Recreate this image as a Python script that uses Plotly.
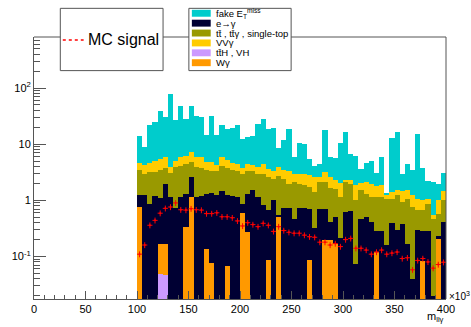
import numpy as np
import plotly.graph_objects as go

# ---- binning (GeV, axis shown in units of 10^3) ----
bin_low = 100.0
bin_width = 5.0
n_bins = 60
bin_centers = bin_low + bin_width * (np.arange(n_bins) + 0.5)

# ---- per-process expected yields per bin ----
tth_vh = [0, 0, 0, 0, 0.048, 0.046, 0, 0, 0, 0,
          0, 0, 0, 0, 0, 0, 0, 0, 0, 0,
          0, 0, 0, 0, 0, 0, 0, 0, 0, 0,
          0, 0, 0, 0, 0, 0, 0, 0, 0, 0,
          0, 0, 0, 0, 0, 0, 0, 0, 0, 0,
          0, 0, 0, 0, 0, 0, 0, 0, 0, 0]

w_gamma = [0.75, 0, 0, 0, 0.122, 0.119, 0, 0, 0, 0.33,
           1.14, 0, 0, 0.135, 0.076, 0, 0, 0.068, 0, 0,
           0.6, 0.276, 0, 0, 0, 0.088, 0, 0.51, 0, 0,
           0, 0, 0, 0.088, 0, 0, 0.2, 0.2, 0.17, 0,
           0, 0, 0, 0, 0, 0, 0.12, 0, 0, 0,
           0, 0, 0, 0, 0, 0.082, 0, 0, 0.205, 0]

e_to_gamma = [0.49, 1.22, 0.87, 1.18, 0.93, 1.79, 1.14, 0.72, 1.14, 0.98,
              1.44, 1.14, 1.19, 1.18, 1.25, 1.25, 1.44, 1.18, 1.2, 1.14,
              0.27, 1.03, 1.5, 1.15, 0.82, 0.58, 1.0, 0.04, 0.72, 0.73,
              0.47, 0.72, 0.72, 0.62, 0.32, 0.71, 0.5, 0.21, 0.34, 0.21,
              0.62, 0.64, 0.074, 0.47, 0.5, 0.41, 0.16, 0.28, 0.16, 0.39,
              0.3, 0.38, 0.17, 0.04, 0.3, 0.2, 0.28, 0.02, 0.025, 0.41]

top = [2.16, 1.73, 2.29, 2.07, 2.42, 1.87, 1.94, 3.16, 3.01, 3.13,
       2.3, 2.76, 2.53, 2.19, 2.07, 2.05, 2.71, 2.45, 2.32, 2.16,
       2.08, 1.99, 1.85, 1.8, 2.13, 1.91, 1.41, 2.21, 1.69, 1.24,
       1.63, 1.25, 1.12, 1.01, 1.08, 1.39, 1.4, 1.24, 1.05, 0.93,
       1.54, 1.33, 0.93, 1.03, 0.8, 0.74, 0.87, 0.87, 0.89, 0.68,
       0.92, 0.55, 0.9, 0.72, 0.37, 0.39, 0.59, 0.45, 0.35, 0.59]

vv_gamma = [1.15, 1.36, 1.39, 1.68, 1.9, 1.98, 0.79, 1.19, 1.65, 1.77,
            2.33, 2.06, 2.08, 1.24, 1.34, 0.95, 1.65, 1.51, 1.03, 1.13,
            0.76, 1.13, 0.96, 1.02, 1.48, 1.03, 0.88, 1.11, 1.06, 1.32,
            0.85, 1.03, 1.11, 1.11, 1.25, 0.48, 1.1, 0.95, 0.74, 0.91,
            0.19, 0.33, 0.85, 0.5, 0.8, 0.81, 0.64, 0.74, 0.2, 0.33,
            0.28, 0.51, 0.43, 0.46, 0.4, 0.33, 0.17, 0.07, 0.42, 0.46]

fake_met = [9.45, 4.69, 17.1, 19.6, 34.3, 24.7, 73.1, 21.9, 43.0, 22.3,
            39.8, 25.8, 24.2, 10.1, 26.8, 10.4, 16.1, 13.2, 15.2, 17.5,
            8.49, 8.97, 9.69, 18.5, 23.9, 14.8, 16.4, 4.53, 8.63, 15.7,
            2.85, 7.7, 7.05, 2.57, 1.45, 1.82, 14.7, 3.2, 3.3, 8.25,
            14.4, 4.5, 4.35, 1.6, 2.5, 3.04, 1.31, 4.11, 0.05, 11.7,
            14.8, 1.56, 3.0, 2.18, 14.3, 2.75, 1.16, 1.56, 0.95, 1.59]

mc_signal = [0.11, 0.16, 0.36, 0.44, 0.59, 0.72, 0.76, 0.9, 0.68, 0.67,
             0.71, 0.68, 0.67, 0.58, 0.58, 0.6, 0.51, 0.51, 0.49, 0.43,
             0.35, 0.4, 0.37, 0.34, 0.39, 0.36, 0.28, 0.34, 0.29, 0.27,
             0.26, 0.26, 0.24, 0.225, 0.22, 0.18, 0.18, 0.16, 0.17, 0.15,
             0.2, 0.21, 0.14, 0.14, 0.13, 0.11, 0.12, 0.13, 0.11, 0.115,
             0.12, 0.092, 0.095, 0.058, 0.085, 0.092, 0.08, 0.062, 0.072, 0.079]

# stacking order, bottom to top
stack = [
    ("tt\u0304H , VH", tth_vh, "#CC99FF"),
    ("W\u03b3", w_gamma, "#FF9900"),
    ("e\u2192\u03b3", e_to_gamma, "#000033"),
    ("tt\u0304 , tt\u0304\u03b3 , single-top", top, "#999900"),
    ("VV\u03b3", vv_gamma, "#FFCC00"),
    ("fake E<sub>T</sub><sup>miss</sup>", fake_met, "#00CCCC"),
]
# legend listing order (top to bottom)
legend_order = [5, 2, 3, 4, 0, 1]

W, H = 471, 327
ML, MR, MT, MB = 31, 25, 37, 25
PW, PH = W - ML - MR, H - MT - MB


def pxx(x):
    return (x - ML) / PW


def pxy(y):
    return (H - MB - y) / PH


FONT = "Liberation Sans, Arial, Helvetica, sans-serif"
fig = go.Figure()

for name, vals, col in stack:
    fig.add_trace(go.Bar(
        x=bin_centers, y=vals, width=bin_width, name=name,
        marker=dict(color=col, line=dict(width=0)),
        showlegend=False,
    ))

fig.add_trace(go.Scatter(
    x=bin_centers, y=mc_signal, mode="markers", name="MC signal",
    marker=dict(color="#FF0000", size=2),
    error_y=dict(type="percent", value=12, color="#FF0000", thickness=1, width=0),
    error_x=dict(type="constant", value=bin_width / 2, color="#FF0000", thickness=1, width=0),
    showlegend=False,
))

ymin, ymax = 0.0175, 810.0
decades = range(-2, 3)
minor_vals = [k * 10.0 ** e for e in decades for k in range(2, 10)
              if ymin < k * 10.0 ** e < ymax]

shapes = [
    # frame top and right
    dict(type="line", xref="paper", yref="paper", x0=0, x1=1, y0=1, y1=1,
         line=dict(color="#555555", width=1)),
    dict(type="line", xref="paper", yref="paper", x0=1, x1=1, y0=0, y1=1,
         line=dict(color="#555555", width=1)),
    # legend boxes
    dict(type="rect", xref="paper", yref="paper",
         x0=pxx(57.5), x1=pxx(161), y0=pxy(71), y1=pxy(8),
         fillcolor="white", line=dict(color="#555555", width=1)),
    dict(type="rect", xref="paper", yref="paper",
         x0=pxx(187), x1=pxx(290), y0=pxy(71), y1=pxy(8),
         fillcolor="white", line=dict(color="#555555", width=1)),
    # signal legend line
    dict(type="line", xref="paper", yref="paper",
         x0=pxx(60), x1=pxx(81), y0=pxy(40), y1=pxy(40),
         line=dict(color="#FF0000", width=1.5, dash="dot")),
]

annotations = [
    dict(text="MC signal", xref="paper", yref="paper", x=pxx(83), y=pxy(40),
         xanchor="left", yanchor="middle", showarrow=False,
         font=dict(family=FONT, size=16, color="black")),
    dict(text="\u00d710<sup>3</sup>", xref="paper", yref="paper", x=pxx(447), y=pxy(299),
         xanchor="left", yanchor="middle", showarrow=False,
         font=dict(family=FONT, size=10, color="black")),
    dict(text="m<sub>ll\u03b3</sub>", xref="paper", yref="paper", x=pxx(446), y=pxy(320),
         xanchor="right", yanchor="middle", showarrow=False,
         font=dict(family=FONT, size=11, color="black")),
]

entry_y = [13, 23, 33, 43, 53, 63]
for row, idx in enumerate(legend_order):
    name, _, col = stack[idx]
    yc = entry_y[row]
    shapes.append(dict(type="rect", xref="paper", yref="paper",
                       x0=pxx(190), x1=pxx(209), y0=pxy(yc + 3.5), y1=pxy(yc - 3.5),
                       fillcolor=col, line=dict(width=0)))
    annotations.append(dict(text=name, xref="paper", yref="paper", x=pxx(212), y=pxy(yc),
                            xanchor="left", yanchor="middle", showarrow=False,
                            font=dict(family=FONT, size=9.5, color="black")))

fig.update_layout(
    width=W, height=H,
    margin=dict(l=ML, r=MR, t=MT, b=MB),
    paper_bgcolor="white", plot_bgcolor="white",
    barmode="stack", bargap=0,
    showlegend=False,
    font=dict(family=FONT, size=11, color="black"),
    shapes=shapes, annotations=annotations,
    xaxis=dict(
        range=[0, 400], showgrid=False, zeroline=False,
        showline=True, linecolor="#555555", linewidth=1,
        ticks="inside", ticklen=8, tickcolor="#555555",
        tickmode="array", tickvals=list(range(0, 401, 50)),
        ticktext=[str(v) for v in range(0, 401, 50)],
        minor=dict(ticks="inside", ticklen=4, tickcolor="#555555", dtick=10, showgrid=False),
        tickfont=dict(family=FONT, size=11),
    ),
    yaxis=dict(
        type="log", range=[np.log10(ymin), np.log10(ymax)],
        showgrid=False, zeroline=False,
        showline=True, linecolor="#555555", linewidth=1,
        ticks="inside", ticklen=12, tickcolor="#555555",
        tickmode="array", tickvals=[0.1, 1, 10, 100],
        ticktext=["10<sup>-1</sup>", "1", "10", "10<sup>2</sup>"],
        minor=dict(ticks="inside", ticklen=6, tickcolor="#555555",
                   tickmode="array", tickvals=minor_vals, showgrid=False),
        tickfont=dict(family=FONT, size=11),
    ),
)

fig.write_html("out.html")
